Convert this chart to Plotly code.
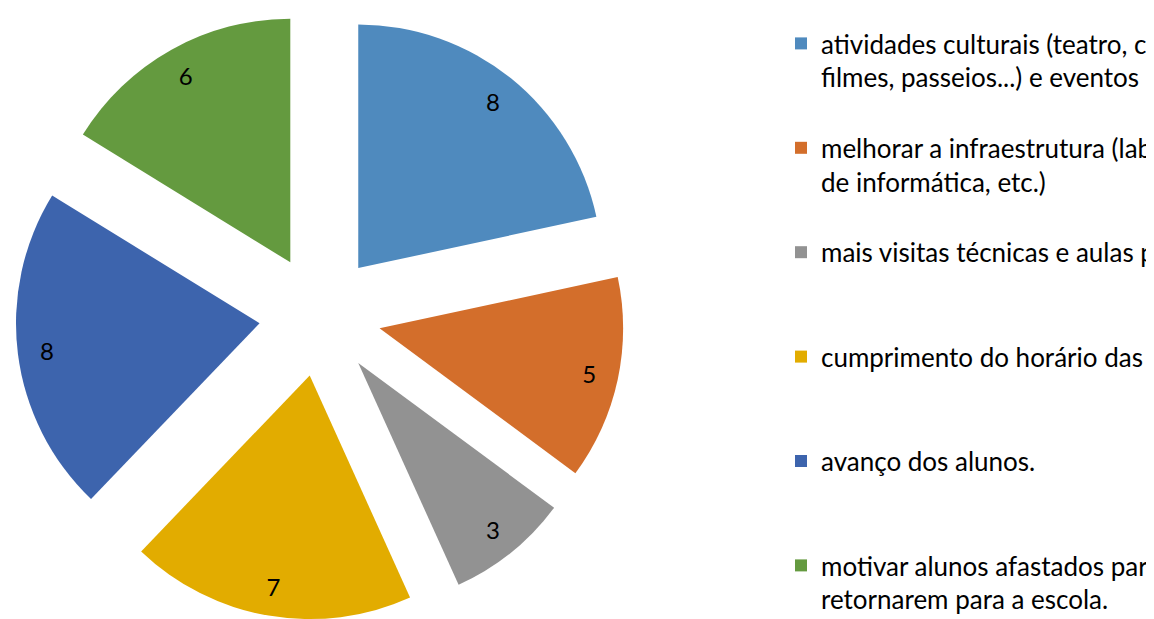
import plotly.graph_objects as go

labels = [
    "atividades culturais (teatro, cinema,<br>filmes, passeios...) e eventos na escola.",
    "melhorar a infraestrutura (laboratório<br>de informática, etc.)",
    "mais visitas técnicas e aulas práticas.",
    "cumprimento do horário das aulas.",
    "avanço dos alunos.",
    "motivar alunos afastados para<br>retornarem para a escola.",
]
values = [8, 5, 3, 7, 8, 6]
colors = ["#4F8ABE", "#D36E2B", "#929292", "#E2AC00", "#3D64AD", "#649A3F"]

LINES_PER_ITEM = 3
PAD = "<br>\u00a0"
line_counts = [lab.count("<br>") + 1 for lab in labels]
legend_labels = [
    lab + PAD * (LINES_PER_ITEM - n) if i < len(labels) - 1 else lab
    for i, (lab, n) in enumerate(zip(labels, line_counts))
]

W, H = 1154, 619
FONT = "Lato"
dom_x = [0, 624 / W]
PLOT_H = 609

fig = go.Figure()
fig.add_trace(go.Pie(
    labels=legend_labels,
    values=values,
    sort=False,
    direction="clockwise",
    rotation=0,
    pull=[0.25] * len(values),
    marker=dict(colors=colors, line=dict(width=0)),
    textinfo="none",
    hoverinfo="label+value",
    domain=dict(x=dom_x, y=[0, 1]),
    showlegend=True,
))
# transparent ring overlay used only to place the value labels near the outer edge
fig.add_trace(go.Pie(
    labels=legend_labels,
    values=values,
    sort=False,
    direction="clockwise",
    rotation=0,
    pull=[0.25] * len(values),
    hole=0.76,
    marker=dict(colors=["rgba(0,0,0,0)"] * len(values), line=dict(width=0)),
    textinfo="value",
    textposition="inside",
    insidetextorientation="horizontal",
    textfont=dict(family=FONT, size=24, color="#000000"),
    hoverinfo="skip",
    domain=dict(x=dom_x, y=[0, 1]),
    showlegend=False,
))

fig.update_layout(
    width=W, height=H,
    margin=dict(l=0, r=0, t=3, b=7, autoexpand=False),
    paper_bgcolor="white",
    plot_bgcolor="white",
    font=dict(family=FONT, size=26, color="#000000"),
    legend=dict(
        x=773 / W, xanchor="left",
        y=1 - 9 / PLOT_H, yanchor="top",
        valign="top",
        font=dict(family=FONT, size=26, color="#000000"),
        bgcolor="rgba(0,0,0,0)",
        traceorder="normal",
    ),
)

fig.write_html("out.html")
